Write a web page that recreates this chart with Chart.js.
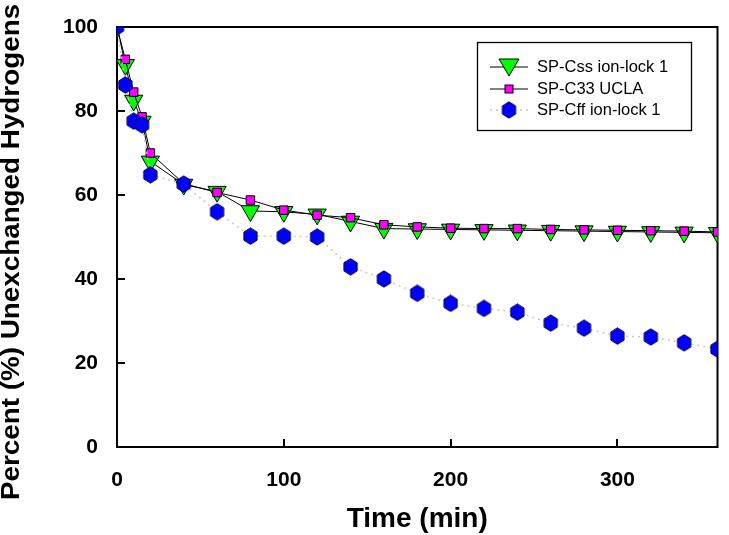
<!DOCTYPE html>
<html>
<head>
<meta charset="utf-8">
<script src="https://cdn.jsdelivr.net/npm/chart.js@4.4.1/dist/chart.umd.min.js"></script>
<style>
	html, body { margin: 0; padding: 0; background: #fff; }
	#wrap { width: 729px; height: 535px; }
</style>
</head>
<body>
<div id="wrap"><canvas id="troca" width="729" height="535"></canvas></div>
<script>
(() => {

	// tempos (min) e porcentagem de hidrogênios não trocados
	const tempos = [0, 5, 10, 15, 20, 40, 60, 80, 100, 120, 140, 160, 180, 200, 220, 240, 260, 280, 300, 320, 340, 360];
	const cssValores = [100, 91, 82.5, 77.5, 68, 62.5, 60.8, 56.2, 56.0, 55.4, 53.7, 52.0, 51.9, 51.8, 51.7, 51.6, 51.5, 51.4, 51.3, 51.2, 51.1, 51.0];
	const c33Valores = [100, 92.3, 84.5, 78.6, 70, 62.7, 60.6, 58.8, 56.4, 55.2, 54.6, 52.9, 52.4, 52.1, 52.0, 52.0, 51.8, 51.7, 51.6, 51.5, 51.4, 51.2];
	const cffValores = [100, 86.2, 77.6, 76.7, 64.8, 62.6, 56, 50.2, 50.2, 50, 42.9, 40, 36.6, 34.2, 33, 32.1, 29.5, 28.3, 26.4, 26.2, 24.8, 23.3];
	const nomes = ["SP-Css ion-lock 1", "SP-C33 UCLA", "SP-Cff ion-lock 1"];
	const tituloY = "Percent (%) Unexchanged Hydrogens";
	const xTicks = [0, 100, 200, 300];
	const yTicks = [0, 20, 40, 60, 80, 100];

	const fonte = "'Liberation Sans', Arial, Helvetica, sans-serif";

	const pontos = (valores) => tempos.map((t, i) => ({ x: t, y: valores[i] }));

	// hexágono azul (não existe no Chart.js)
	const hexagono = (() => {
		const c = document.createElement('canvas');
		c.width = 17;
		c.height = 18;
		const g = c.getContext('2d');
		g.beginPath();
		for (let i = 0; i < 6; i++) {
			const a = Math.PI / 2 + i * Math.PI / 3;
			const px = 8.5 + 7.6 * Math.cos(a);
			const py = 9 + 8.2 * Math.sin(a);
			if (i === 0) g.moveTo(px, py); else g.lineTo(px, py);
		}
		g.closePath();
		g.fillStyle = '#0000ff';
		g.fill();
		g.strokeStyle = '#000040';
		g.lineWidth = 1;
		g.stroke();
		return c;
	})();

	const moldura = {
		id: 'moldura',
		beforeDatasetsDraw(chart) {
			const { ctx, chartArea: a, scales } = chart;
			ctx.save();
			ctx.strokeStyle = '#000';
			ctx.lineWidth = 2;
			ctx.strokeRect(a.left, a.top, a.right - a.left, a.bottom - a.top);
			ctx.beginPath();
			xTicks.forEach(v => {
				const px = Math.round(scales.x.getPixelForValue(v));
				ctx.moveTo(px, a.bottom);
				ctx.lineTo(px, a.bottom - 8);
			});
			yTicks.forEach(v => {
				const py = Math.round(scales.y.getPixelForValue(v));
				ctx.moveTo(a.left, py);
				ctx.lineTo(a.left + 8, py);
			});
			ctx.stroke();

			// título do eixo y, um pouco esticado como no original
			ctx.translate(12, 252);
			ctx.rotate(-Math.PI / 2);
			ctx.scale(1.07, 1);
			ctx.fillStyle = '#000';
			ctx.font = "bold 26px " + fonte;
			ctx.textAlign = 'center';
			ctx.textBaseline = 'middle';
			ctx.fillText(tituloY, 0, 0);
			ctx.restore();
		}
	};

	const legenda = {
		id: 'legenda',
		afterDraw(chart) {
			const ctx = chart.ctx;
			ctx.save();
			ctx.strokeStyle = '#000';
			ctx.lineWidth = 1.3;
			ctx.strokeRect(477.5, 42.5, 214, 88);
			const linhas = [67, 89, 110];
			linhas.forEach((y, i) => {
				ctx.beginPath();
				ctx.lineWidth = i === 2 ? 1.5 : 1;
				ctx.strokeStyle = i === 2 ? '#c8c8c8' : '#000';
				ctx.setLineDash(i === 2 ? [2, 4] : []);
				ctx.moveTo(490, y);
				ctx.lineTo(528, y);
				ctx.stroke();
				ctx.setLineDash([]);
				ctx.strokeStyle = '#000';
				ctx.lineWidth = 1;
				if (i === 0) {
					ctx.beginPath();
					ctx.moveTo(499, y - 8);
					ctx.lineTo(519, y - 8);
					ctx.lineTo(509, y + 9);
					ctx.closePath();
					ctx.fillStyle = '#00ff00';
					ctx.fill();
					ctx.stroke();
				} else if (i === 1) {
					ctx.fillStyle = '#ff00ff';
					ctx.fillRect(505, y - 4, 8, 8);
					ctx.strokeRect(505, y - 4, 8, 8);
				} else {
					ctx.drawImage(hexagono, 509 - 8.5, y - 9);
				}
				ctx.fillStyle = '#000';
				ctx.font = "16.5px " + fonte;
				ctx.textBaseline = 'middle';
				ctx.fillText(nomes[i], 537, y);
			});
			ctx.restore();
		}
	};

	new Chart("troca", {
		type: "scatter",
		data: {
			datasets: [{
				label: nomes[0],
				data: pontos(cssValores),
				showLine: true,
				borderColor: "#000",
				borderWidth: 1,
				pointStyle: 'triangle',
				rotation: 180,
				pointRadius: 10.5,
				pointBackgroundColor: "#00ff00",
				pointBorderColor: "#000",
				pointBorderWidth: 1,
				order: 3
			}, {
				label: nomes[1],
				data: pontos(c33Valores),
				showLine: true,
				borderColor: "#000",
				borderWidth: 1,
				pointStyle: 'rect',
				pointRadius: 6,
				pointBackgroundColor: "#ff00ff",
				pointBorderColor: "#000",
				pointBorderWidth: 1,
				order: 2
			}, {
				label: nomes[2],
				data: pontos(cffValores),
				showLine: true,
				borderColor: "#c8c8c8",
				borderWidth: 1.5,
				borderDash: [2, 4],
				pointStyle: hexagono,
				pointRadius: 8,
				order: 1
			}]
		},
		options: {
			responsive: false,
			animation: false,
			devicePixelRatio: 1,
			events: [],
			layout: { padding: { left: 0, top: 27, right: 11, bottom: 0 } },
			plugins: {
				legend: { display: false },
				tooltip: { enabled: false }
			},
			scales: {
				x: {
					type: 'linear',
					min: 0,
					max: 360,
					afterBuildTicks: (s) => { s.ticks = xTicks.map(v => ({ value: v })); },
					afterFit: (s) => { s.height = 88; },
					grid: { display: false },
					border: { display: false },
					ticks: {
						padding: 13,
						color: '#000',
						font: { family: fonte, size: 21, weight: 'bold' }
					},
					title: {
						display: true,
						text: "Time (min)",
						color: '#000',
						padding: { top: 0, bottom: 0 },
						font: { family: fonte, size: 28, weight: 'bold', lineHeight: 1.1 }
					}
				},
				y: {
					min: 0,
					max: 100,
					afterBuildTicks: (s) => { s.ticks = yTicks.map(v => ({ value: v })); },
					afterFit: (s) => { s.width = 117; },
					grid: { display: false },
					border: { display: false },
					ticks: {
						padding: 11,
						color: '#000',
						font: { family: fonte, size: 21, weight: 'bold' }
					}
				}
			}
		},
		plugins: [moldura, legenda]
	});
})();
</script>
</body>
</html>
